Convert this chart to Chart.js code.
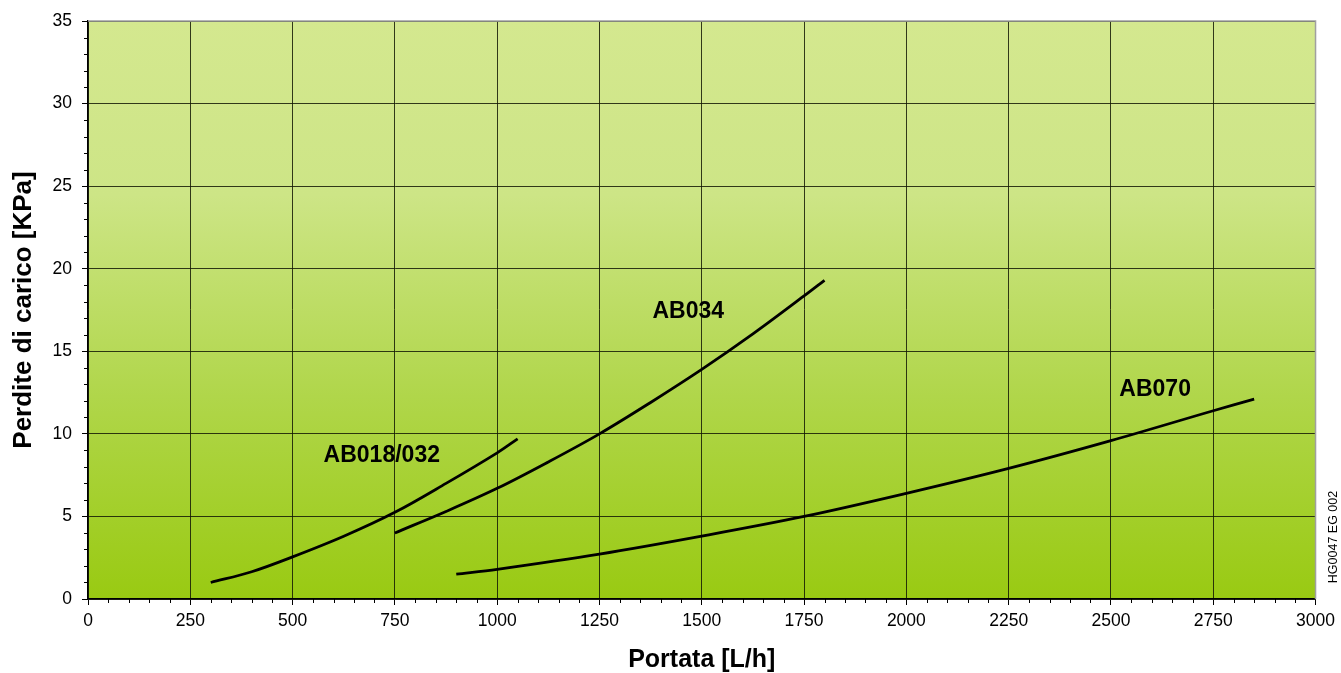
<!DOCTYPE html>
<html>
<head>
<meta charset="utf-8">
<script src="https://cdn.jsdelivr.net/npm/chart.js@4/dist/chart.umd.min.js"></script>
<style>
  html, body { margin: 0; padding: 0; background: #fff; }
  #wrap { width: 1341px; height: 673px; position: relative; }
</style>
</head>
<body>
<div id="wrap"><canvas id="myChart"></canvas></div>
<script>
// data
const ab018X = [300, 400, 500, 625, 750, 875, 1000, 1050];
const ab018Y = [1.0, 1.65, 2.55, 3.8, 5.25, 7.0, 8.85, 9.7];

const ab034X = [750, 875, 1000, 1125, 1250, 1375, 1500, 1625, 1750, 1800];
const ab034Y = [4.0, 5.3, 6.7, 8.3, 10.0, 11.9, 13.9, 16.05, 18.35, 19.3];

const ab070X = [900, 1000, 1250, 1500, 1750, 2000, 2250, 2500, 2750, 2850];
const ab070Y = [1.5, 1.8, 2.72, 3.81, 5.0, 6.4, 7.91, 9.59, 11.4, 12.1];

const seriesNames = ['AB018/032', 'AB034', 'AB070'];
const xTicks = [0, 250, 500, 750, 1000, 1250, 1500, 1750, 2000, 2250, 2500, 2750, 3000];
const yTicks = [0, 5, 10, 15, 20, 25, 30, 35];

function pts(xs, ys) {
  return xs.map(function (x, i) { return { x: x, y: ys[i] }; });
}

// curve captions, anchored in data units
const captions = [
  { text: 'AB018/032', x: 718, y: 8.69 },
  { text: 'AB034', x: 1467, y: 17.38 },
  { text: 'AB070', x: 2608, y: 12.69 }
];

const paintPlugin = {
  id: 'paint',
  beforeDraw: function (chart) {
    const ca = chart.chartArea;
    const ctx = chart.ctx;
    const g = ctx.createLinearGradient(0, ca.top, 0, ca.bottom);
    g.addColorStop(0, '#d4e88f');
    g.addColorStop(0.3, '#cde586');
    g.addColorStop(0.65, '#b0d64a');
    g.addColorStop(1, '#99ca12');
    ctx.save();
    ctx.fillStyle = g;
    ctx.fillRect(ca.left, ca.top, ca.right - ca.left, ca.bottom - ca.top);
    ctx.restore();
  },
  afterDraw: function (chart) {
    const ca = chart.chartArea;
    const ctx = chart.ctx;
    const xs = chart.scales.x;
    const ys = chart.scales.y;
    ctx.save();
    // gray frame top + right
    ctx.strokeStyle = '#a0a0a0';
    ctx.lineWidth = 1.5;
    ctx.beginPath();
    ctx.moveTo(ca.left, ca.top);
    ctx.lineTo(ca.right, ca.top);
    ctx.lineTo(ca.right, ca.bottom);
    ctx.stroke();
    // minor ticks
    ctx.strokeStyle = '#000';
    ctx.lineWidth = 1;
    ctx.beginPath();
    for (let v = 50; v < 3000; v += 50) {
      if (v % 250 === 0) continue;
      const px = Math.round(xs.getPixelForValue(v)) + 0.5;
      ctx.moveTo(px, ca.bottom);
      ctx.lineTo(px, ca.bottom + 4);
    }
    for (let v = 1; v < 35; v++) {
      if (v % 5 === 0) continue;
      const py = Math.round(ys.getPixelForValue(v)) + 0.5;
      ctx.moveTo(ca.left - 4, py);
      ctx.lineTo(ca.left, py);
    }
    ctx.stroke();
    // captions
    ctx.fillStyle = '#000';
    ctx.font = 'bold 23px "Liberation Sans", Arial, sans-serif';
    ctx.textAlign = 'center';
    ctx.textBaseline = 'middle';
    captions.forEach(function (c) {
      ctx.fillText(c.text, xs.getPixelForValue(c.x), ys.getPixelForValue(c.y));
    });
    // drawing code
    ctx.font = '12.5px "Liberation Sans", Arial, sans-serif';
    ctx.translate(1334, 537);
    ctx.rotate(-Math.PI / 2);
    ctx.fillText('HG0047 EG 002', 0, 0);
    ctx.restore();
  }
};

const lineStyle = {
  borderColor: '#000',
  borderWidth: 2.8,
  pointRadius: 0,
  showLine: true,
  tension: 0.35,
  fill: false
};

const data = {
  datasets: [
    Object.assign({ label: seriesNames[0], data: pts(ab018X, ab018Y) }, lineStyle),
    Object.assign({ label: seriesNames[1], data: pts(ab034X, ab034Y) }, lineStyle),
    Object.assign({ label: seriesNames[2], data: pts(ab070X, ab070Y) }, lineStyle)
  ]
};

const tickFont = { family: '"Liberation Sans", Arial, sans-serif', size: 17.5 };
const titleFont = { family: '"Liberation Sans", Arial, sans-serif', size: 25, weight: 'bold', lineHeight: 1 };
const yTitleFont = { family: '"Liberation Sans", Arial, sans-serif', size: 26, weight: 'bold', lineHeight: 1 };
const plain = function (v) { return String(v); };

const config = {
  type: 'scatter',
  data,
  options: {
    responsive: false,
    animation: false,
    layout: { padding: { top: 21, right: 24, left: 0, bottom: 0 } },
    plugins: {
      legend: { display: false },
      tooltip: { enabled: false }
    },
    scales: {
      x: {
        type: 'linear',
        min: 0,
        max: 3000,
        afterFit: function (scale) { scale.height = 74; },
        afterBuildTicks: function (scale) {
          scale.ticks = xTicks.map(function (v) { return { value: v }; });
        },
        ticks: { font: tickFont, color: '#000', padding: 6, maxRotation: 0, autoSkip: false, callback: plain },
        grid: { color: 'rgba(20,25,5,0.85)', lineWidth: 1, tickLength: 6, tickColor: '#000' },
        border: { color: '#000', width: 1.5 },
        title: { display: true, text: 'Portata [L/h]', color: '#000', font: titleFont, padding: { top: 0, bottom: 0 } }
      },
      y: {
        type: 'linear',
        min: 0,
        max: 35,
        afterFit: function (scale) { scale.width = 88; },
        afterBuildTicks: function (scale) {
          scale.ticks = yTicks.map(function (v) { return { value: v }; });
        },
        ticks: { font: tickFont, color: '#000', padding: 10, autoSkip: false, callback: plain },
        grid: { color: 'rgba(20,25,5,0.85)', lineWidth: 1, tickLength: 6, tickColor: '#000' },
        border: { color: '#000', width: 1.5 },
        title: { display: true, text: 'Perdite di carico [KPa]', color: '#000', font: yTitleFont, padding: { top: 11, bottom: 0 } }
      }
    }
  },
  plugins: [paintPlugin]
};

const canvas = document.getElementById('myChart');
canvas.width = 1341;
canvas.height = 673;
canvas.style.width = '1341px';
canvas.style.height = '673px';
const myChart = new Chart(canvas.getContext('2d'), config);
</script>
</body>
</html>
